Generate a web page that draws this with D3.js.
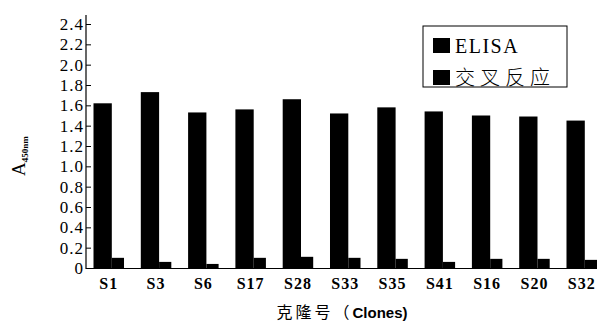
<!DOCTYPE html>
<html>
<head>
<meta charset="utf-8">
<script src="https://cdn.jsdelivr.net/npm/d3@7"></script>
<style>
    body { margin: 0; background: #fff; }
    svg { display: block; }
    svg text.serif { font-family: "Times New Roman", "Liberation Serif", "DejaVu Serif", serif; }
</style>
</head>
<body>
<div id="chart"></div>
<script>
// data
const clones = ["S1", "S3", "S6", "S17", "S28", "S33", "S35", "S41", "S16", "S20", "S32"];
const elisa = [1.62, 1.73, 1.53, 1.56, 1.66, 1.52, 1.58, 1.54, 1.50, 1.49, 1.45];
const crossReact = [0.10, 0.06, 0.04, 0.10, 0.11, 0.10, 0.09, 0.06, 0.09, 0.09, 0.08];
const seriesNames = ["ELISA", "交叉反应"];
const yTicks = [0, 0.2, 0.4, 0.6, 0.8, 1.0, 1.2, 1.4, 1.6, 1.8, 2.0, 2.2, 2.4];

const chartW = 600, chartH = 325;
const margin = {left: 86, bottom: 268, top: 24};

let svg = d3.select("#chart").append("svg")
    .attr("width", chartW)
    .attr("height", chartH);

// scales
let x = d3.scaleBand()
    .domain(clones)
    .range([93.5, 597])
    .paddingInner(0.355)
    .paddingOuter(0)
    .align(0);

let y = d3.scaleLinear()
    .domain([0, 2.4])
    .range([margin.bottom, margin.top]);

let elisaW = x.bandwidth() * 0.6;

// bars
let groups = svg.selectAll(".grp")
    .data(clones.map((c, i) => ({clone: c, elisa: elisa[i], cross: crossReact[i]})))
    .enter()
    .append("g")
    .attr("class", "grp")
    .attr("transform", d => `translate(${x(d.clone)},0)`);

groups.append("rect")
    .attr("x", 0)
    .attr("y", d => y(d.elisa))
    .attr("width", elisaW)
    .attr("height", d => y(0) - y(d.elisa))
    .attr("fill", "#000");

groups.append("rect")
    .attr("x", elisaW)
    .attr("y", d => y(d.cross))
    .attr("width", x.bandwidth() - elisaW)
    .attr("height", d => y(0) - y(d.cross))
    .attr("fill", "#000");

// y axis
let yAxis = d3.axisLeft(y)
    .tickValues(yTicks)
    .tickSize(-5)
    .tickPadding(3)
    .tickFormat(d => d === 0 ? "0" : d3.format(".1f")(d));

let yg = svg.append("g")
    .attr("transform", `translate(${margin.left},0)`)
    .attr("font-family", null)
    .call(yAxis);
yg.attr("font-family", "Times New Roman, Liberation Serif, serif");
yg.select(".domain").remove();
yg.selectAll("line").attr("stroke", "#000");
yg.selectAll("text")
    .attr("class", "serif")
    .attr("fill", "#000")
    .attr("x", -2)
    .style("font-size", "17px")
    .style("letter-spacing", "1px");

svg.append("line")
    .attr("x1", margin.left).attr("x2", margin.left)
    .attr("y1", 15).attr("y2", margin.bottom + 1)
    .attr("stroke", "#000")
    .attr("stroke-width", 1.2);

// x axis
let xAxis = d3.axisBottom(x).tickSize(0).tickPadding(9);
let xg = svg.append("g")
    .attr("transform", `translate(0,${margin.bottom})`)
    .call(xAxis);
xg.attr("font-family", "Times New Roman, Liberation Serif, serif");
xg.select(".domain").remove();
xg.selectAll("text")
    .attr("class", "serif")
    .attr("fill", "#000")
    .attr("dy", "0.72em")
    .style("font-size", "16px")
    .style("font-weight", "bold")
    .style("letter-spacing", "1px");

svg.append("line")
    .attr("x1", margin.left).attr("x2", 597)
    .attr("y1", margin.bottom + 0.5).attr("y2", margin.bottom + 0.5)
    .attr("stroke", "#000")
    .attr("stroke-width", 1.2);

// axis titles
let yTitle = svg.append("text")
    .attr("class", "serif")
    .attr("transform", `translate(25,176)rotate(-90)`)
    .attr("fill", "#000");
yTitle.append("tspan").text("A").style("font-size", "19px");
yTitle.append("tspan").text("450nm").attr("dy", 3).style("font-size", "9px").style("font-weight", "bold");

let xTitle = svg.append("text")
    .attr("x", 342)
    .attr("y", 318)
    .attr("text-anchor", "middle")
    .attr("fill", "#000");
xTitle.append("tspan").text("克隆号（")
    .style("font-family", "Noto Sans CJK SC")
    .style("font-size", "16px")
    .style("letter-spacing", "3px");
xTitle.append("tspan").text("Clones)")
    .style("font-family", "Liberation Sans, sans-serif")
    .style("font-weight", "bold")
    .style("font-size", "15px");

// legend
let legend = svg.append("g").attr("transform", "translate(423,26)");
legend.append("rect")
    .attr("width", 144).attr("height", 61)
    .attr("fill", "#fff")
    .attr("stroke", "#000")
    .attr("stroke-width", 1);

let items = legend.selectAll(".item")
    .data(seriesNames)
    .enter()
    .append("g")
    .attr("class", "item")
    .attr("transform", (d, i) => `translate(10,${12 + i * 32})`);

items.append("rect")
    .attr("width", 17).attr("height", 15)
    .attr("fill", "#000");

items.append("text")
    .attr("class", (d, i) => i === 0 ? "serif" : null)
    .attr("x", 22)
    .attr("y", 15)
    .attr("fill", "#000")
    .style("font-family", (d, i) => i === 0 ? null : "Noto Sans CJK SC")
    .style("font-size", "20px")
    .style("font-weight", (d, i) => i === 0 ? "normal" : "300")
    .style("letter-spacing", (d, i) => i === 0 ? "1.5px" : "5px")
    .text(d => d);
</script>
</body>
</html>
